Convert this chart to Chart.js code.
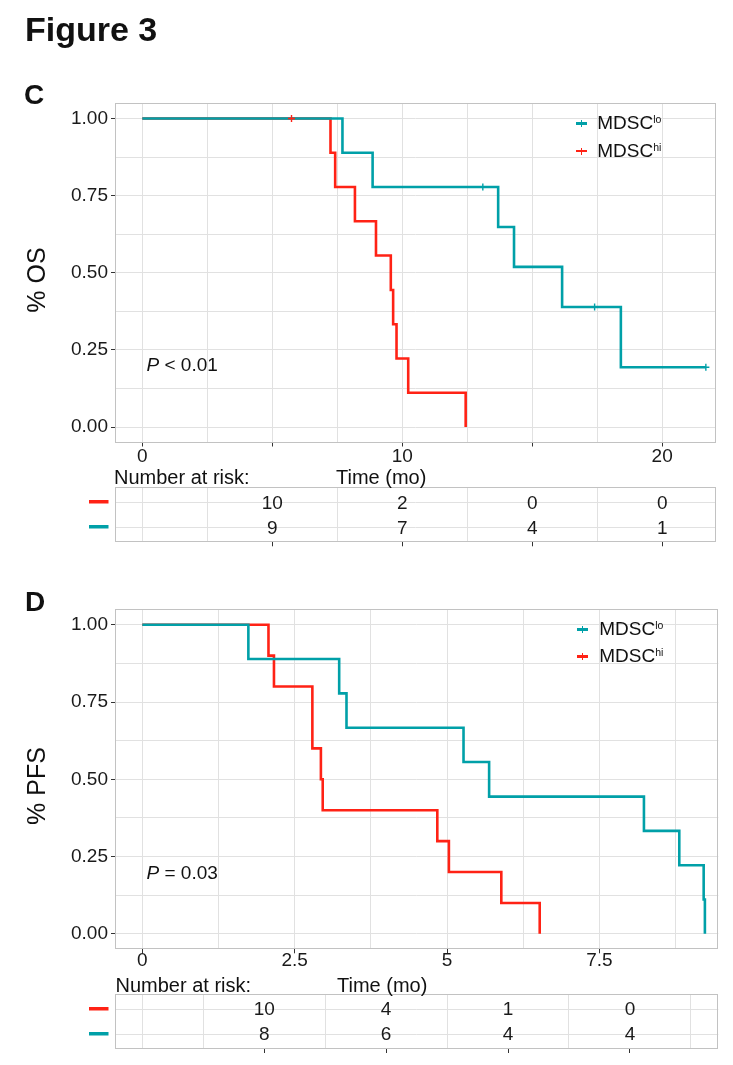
<!DOCTYPE html>
<html>
<head>
<meta charset="utf-8">
<script src="https://cdn.jsdelivr.net/npm/chart.js@4.4.1/dist/chart.umd.min.js"></script>
<style>
  html, body { margin: 0; padding: 0; background: #fff; }
  #page { position: relative; width: 733px; height: 1065px; overflow: hidden; background: #fff;
          font-family: "Liberation Sans", Arial, Helvetica, sans-serif; color: #111; }
  #page canvas { position: absolute; left: 0; }
  .t { position: absolute; white-space: nowrap; line-height: 1; z-index: 5; }
  .mk { position: absolute; z-index: 5; }
</style>
</head>
<body>
<div id="page">
  <canvas id="cMain" width="733" height="470" style="top:0px"></canvas>
  <canvas id="cRisk" width="733" height="80" style="top:470px"></canvas>
  <canvas id="dMain" width="733" height="395" style="top:580px"></canvas>
  <canvas id="dRisk" width="733" height="90" style="top:975px"></canvas>
</div>
<script>
// ================= DATA =================
// Panel C: overall survival, time in months
const osLoTimes = [0, 7.70, 8.86, 13.69, 14.30, 16.15, 18.41, 21.68];
const osLoSurv  = [1.000, 0.889, 0.778, 0.648, 0.519, 0.389, 0.194, 0.194];
const osLoCensorTimes = [13.10, 17.40, 21.68];
const osLoCensorSurv  = [0.778, 0.389, 0.194];
const osHiTimes = [0, 7.24, 7.42, 8.18, 8.99, 9.56, 9.65, 9.78, 10.23, 12.44];
const osHiSurv  = [1.000, 0.889, 0.778, 0.667, 0.556, 0.444, 0.333, 0.222, 0.111, 0.000];
const osHiCensorTimes = [5.74];
const osHiCensorSurv  = [1.000];
const osRiskTimes = [5, 10, 15, 20];
const osRiskHi = [10, 2, 0, 0];
const osRiskLo = [9, 7, 4, 1];
const osXTickLabels = [0, 10, 20];
const osXTickMarks = [0, 5, 10, 15, 20];
const osXGrid = [0, 2.5, 5, 7.5, 10, 12.5, 15, 17.5, 20];
const osRiskGrid = [0, 2.5, 7.5, 12.5, 17.5];

// Panel D: progression-free survival, time in months
const pfsLoTimes = [0, 1.74, 3.23, 3.35, 5.27, 5.69, 8.23, 8.81, 9.21, 9.23];
const pfsLoSurv  = [1.000, 0.889, 0.778, 0.667, 0.556, 0.444, 0.333, 0.222, 0.111, 0.000];
const pfsHiTimes = [0, 2.07, 2.16, 2.79, 2.93, 2.96, 4.84, 5.03, 5.89, 6.52];
const pfsHiSurv  = [1.00, 0.90, 0.80, 0.60, 0.50, 0.40, 0.30, 0.20, 0.10, 0.00];
const pfsRiskTimes = [2, 4, 6, 8];
const pfsRiskHi = [10, 4, 1, 0];
const pfsRiskLo = [8, 6, 4, 4];
const pfsXTickLabels = [0, 2.5, 5, 7.5];
const pfsXTickMarks = [0, 2.5, 5, 7.5];
const pfsXGrid = [0, 1.25, 2.5, 3.75, 5, 6.25, 7.5, 8.75];
const pfsRiskGrid = [0, 1, 3, 5, 7, 9];

// Shared y axis
const survGrid = [0, 0.125, 0.25, 0.375, 0.5, 0.625, 0.75, 0.875, 1];
const survTickLabels = [0, 0.25, 0.5, 0.75, 1];
const groupLabels = ['MDSC', 'MDSC'];
const groupSup = ['lo', 'hi'];

// ================= STYLE =================
const TEAL = '#00a0a8';
const RED = '#ff2215';
const GRID = '#e1e1e1';
const FRAME = '#c2c2c2';
const AXIS = '#333333';
const TXT = '#1a1a1a';
const NONE = 'rgba(0,0,0,0)';
const FONT = '"Liberation Sans", Arial, Helvetica, sans-serif';

const xy = (xs, ys) => xs.map((x, i) => ({ x: x, y: ys[i] }));

const framePlugin = {
  id: 'frame',
  afterDraw(chart) {
    const { ctx, chartArea: a } = chart;
    ctx.save();
    ctx.strokeStyle = FRAME;
    ctx.lineWidth = 1;
    ctx.strokeRect(Math.round(a.left) + 0.5, Math.round(a.top) + 0.5,
                   Math.round(a.right) - Math.round(a.left) - 1, Math.round(a.bottom) - Math.round(a.top) - 1);
    ctx.restore();
  }
};

function kmChart(id, o) {
  const datasets = [];
  if (o.hiCensor) datasets.push({ label: 'hi censored', data: o.hiCensor, showLine: false,
    pointStyle: 'cross', pointRadius: 3.5, pointBorderWidth: 1.4, borderColor: RED, backgroundColor: RED });
  if (o.loCensor) datasets.push({ label: 'lo censored', data: o.loCensor, showLine: false,
    pointStyle: 'cross', pointRadius: 3.5, pointBorderWidth: 1.4, borderColor: TEAL, backgroundColor: TEAL });
  datasets.push({ label: 'MDSC lo', data: o.lo, stepped: 'before', borderColor: TEAL, borderWidth: 2.6,
    pointRadius: 0, fill: false, borderCapStyle: 'butt', borderJoinStyle: 'miter' });
  datasets.push({ label: 'MDSC hi', data: o.hi, stepped: 'before', borderColor: RED, borderWidth: 2.6,
    pointRadius: 0, fill: false, borderCapStyle: 'butt', borderJoinStyle: 'miter' });

  return new Chart(document.getElementById(id), {
    type: 'line',
    data: { datasets },
    options: {
      responsive: false, animation: false, devicePixelRatio: 1,
      layout: { padding: { top: o.padTop, right: o.padRight, left: 0, bottom: 0 } },
      plugins: { legend: { display: false }, tooltip: { enabled: false }, title: { display: false } },
      scales: {
        x: {
          type: 'linear', min: o.xmin, max: o.xmax,
          afterBuildTicks: s => { s.ticks = o.xGrid.map(v => ({ value: v })); },
          afterFit: s => { s.height = o.xAxisH; s.paddingLeft = 0; s.paddingRight = 0; },
          border: { display: false },
          grid: { color: GRID, lineWidth: 1, drawTicks: true, tickLength: 4,
                  tickColor: c => (c.tick && o.xTickMarks.includes(c.tick.value)) ? AXIS : NONE },
          ticks: { autoSkip: false, maxRotation: 0, minRotation: 0, padding: o.xPad, color: TXT,
                   font: { family: FONT, size: 19 },
                   callback: v => o.xLabels.includes(v) ? String(v) : '' }
        },
        y: {
          type: 'linear', min: -0.05, max: 1.05,
          afterBuildTicks: s => { s.ticks = survGrid.map(v => ({ value: v })); },
          afterFit: s => { s.width = 115; s.paddingTop = 0; s.paddingBottom = 0; },
          border: { display: false },
          grid: { color: GRID, lineWidth: 1, drawTicks: true, tickLength: 4,
                  tickColor: c => (c.tick && survTickLabels.includes(c.tick.value)) ? AXIS : NONE },
          ticks: { autoSkip: false, padding: 3, color: TXT, font: { family: FONT, size: 19 },
                   callback: v => survTickLabels.includes(v) ? v.toFixed(2) : '' }
        }
      }
    },
    plugins: [framePlugin]
  });
}

const riskTextPlugin = {
  id: 'riskText',
  afterDatasetsDraw(chart) {
    const ctx = chart.ctx;
    ctx.save();
    ctx.font = '19px ' + FONT;
    ctx.fillStyle = TXT;
    ctx.textAlign = 'center';
    ctx.textBaseline = 'middle';
    chart.data.datasets.forEach((ds, di) => {
      const meta = chart.getDatasetMeta(di);
      meta.data.forEach((pt, i) => ctx.fillText(String(ds.data[i].n), pt.x, pt.y + 1));
      // colour key for the row, placed on the y axis
      const py = chart.scales.y.getPixelForValue(ds.data[0].y);
      ctx.fillStyle = ds.rowColor;
      ctx.fillRect(89, Math.round(py) - 2, 19.5, 3.5);
      ctx.fillStyle = TXT;
    });
    ctx.restore();
  }
};

function riskChart(id, o) {
  const allTicks = o.grid.concat(o.ticks).sort((a, b) => a - b);
  return new Chart(document.getElementById(id), {
    type: 'scatter',
    data: {
      datasets: [
        { label: 'hi', rowColor: RED, pointRadius: 0, showLine: false,
          data: o.times.map((t, i) => ({ x: t, y: 2, n: o.hi[i] })) },
        { label: 'lo', rowColor: TEAL, pointRadius: 0, showLine: false,
          data: o.times.map((t, i) => ({ x: t, y: 1, n: o.lo[i] })) }
      ]
    },
    options: {
      responsive: false, animation: false, devicePixelRatio: 1,
      layout: { padding: { top: o.padTop, right: o.padRight, left: 0, bottom: 0 } },
      plugins: { legend: { display: false }, tooltip: { enabled: false } },
      scales: {
        x: {
          type: 'linear', min: o.xmin, max: o.xmax,
          afterBuildTicks: s => { s.ticks = allTicks.map(v => ({ value: v })); },
          afterFit: s => { s.height = o.xAxisH; s.paddingLeft = 0; s.paddingRight = 0; },
          border: { display: false },
          grid: { lineWidth: 1, drawTicks: true, tickLength: 4,
                  color: c => (c.tick && o.grid.includes(c.tick.value)) ? GRID : NONE,
                  tickColor: c => (c.tick && o.ticks.includes(c.tick.value)) ? AXIS : NONE },
          ticks: { display: false }
        },
        y: {
          type: 'linear', min: 0.4, max: 2.6,
          afterBuildTicks: s => { s.ticks = [{ value: 1 }, { value: 2 }]; },
          afterFit: s => { s.width = 115; s.paddingTop = 0; s.paddingBottom = 0; },
          border: { display: false },
          grid: { color: GRID, lineWidth: 1, drawTicks: false },
          ticks: { display: false }
        }
      }
    },
    plugins: [framePlugin, riskTextPlugin]
  });
}

// ================= CHARTS =================
kmChart('cMain', {
  lo: xy(osLoTimes, osLoSurv), hi: xy(osHiTimes, osHiSurv),
  loCensor: xy(osLoCensorTimes, osLoCensorSurv), hiCensor: xy(osHiCensorTimes, osHiCensorSurv),
  xmin: -1.05, xmax: 22.07, xGrid: osXGrid, xTickMarks: osXTickMarks, xLabels: osXTickLabels,
  padTop: 103, padRight: 17, xAxisH: 27.5, xPad: -1
});
riskChart('cRisk', {
  times: osRiskTimes, hi: osRiskHi, lo: osRiskLo, grid: osRiskGrid, ticks: osRiskTimes,
  xmin: -1.05, xmax: 22.07, padTop: 17.3, padRight: 17, xAxisH: 7.7
});
kmChart('dMain', {
  lo: xy(pfsLoTimes, pfsLoSurv), hi: xy(pfsHiTimes, pfsHiSurv),
  xmin: -0.448, xmax: 9.45, xGrid: pfsXGrid, xTickMarks: pfsXTickMarks, xLabels: pfsXTickLabels,
  padTop: 29.3, padRight: 14.7, xAxisH: 25.7, xPad: -4
});
riskChart('dRisk', {
  times: pfsRiskTimes, hi: pfsRiskHi, lo: pfsRiskLo, grid: pfsRiskGrid, ticks: pfsRiskTimes,
  xmin: -0.448, xmax: 9.45, padTop: 19, padRight: 14.7, xAxisH: 16
});

// ================= TEXT (HTML) =================
const page = document.getElementById('page');
function addText(html, left, baseline, size, extra) {
  const d = document.createElement('div');
  d.className = 't';
  d.innerHTML = html;
  d.style.left = left + 'px';
  d.style.top = (baseline - 0.8465 * size) + 'px';
  d.style.fontSize = size + 'px';
  Object.assign(d.style, extra || {});
  page.appendChild(d);
  return d;
}
function addRotated(text, cx, cy, size) {
  const d = document.createElement('div');
  d.className = 't';
  d.textContent = text;
  d.style.left = cx + 'px';
  d.style.top = cy + 'px';
  d.style.fontSize = size + 'px';
  d.style.transform = 'translate(-50%,-50%) rotate(-90deg)';
  page.appendChild(d);
}
function legendRow(color, x0, cy, textLeft, baseline, name, sup) {
  const line = document.createElement('div');
  line.className = 'mk';
  Object.assign(line.style, { left: x0 + 'px', top: (cy - 1.3) + 'px', width: '11px', height: '2.6px', background: color });
  page.appendChild(line);
  const tick = document.createElement('div');
  tick.className = 'mk';
  Object.assign(tick.style, { left: (x0 + 4.9) + 'px', top: (cy - 3.5) + 'px', width: '1.3px', height: '7px', background: color });
  page.appendChild(tick);
  addText(name + '<span style="font-size:10.5px;position:relative;top:-6px">' + sup + '</span>', textLeft, baseline, 19);
}

addText('Figure 3', 25, 41, 34, { fontWeight: 'bold' });
addText('C', 24, 105, 28, { fontWeight: 'bold' });
addText('D', 25, 611.3, 28, { fontWeight: 'bold' });

addRotated('% OS', 36, 280, 25);
addRotated('% PFS', 36, 786, 25);

addText('<i>P</i> &lt; 0.01', 146.5, 370.7, 19);
addText('<i>P</i> = 0.03', 146.5, 879.3, 19);

legendRow(TEAL, 575.7, 123.3, 597.3, 129, groupLabels[0], groupSup[0]);
legendRow(RED, 575.7, 151, 597.3, 156.7, groupLabels[1], groupSup[1]);
legendRow(TEAL, 576.9, 629.3, 599.3, 635, groupLabels[0], groupSup[0]);
legendRow(RED, 576.9, 656.7, 599.3, 662.3, groupLabels[1], groupSup[1]);

addText('Number at risk:', 114, 484.3, 20);
addText('Time (mo)', 336, 484.3, 20);
addText('Number at risk:', 115.5, 991.7, 20);
addText('Time (mo)', 337, 991.7, 20);
</script>
</body>
</html>
